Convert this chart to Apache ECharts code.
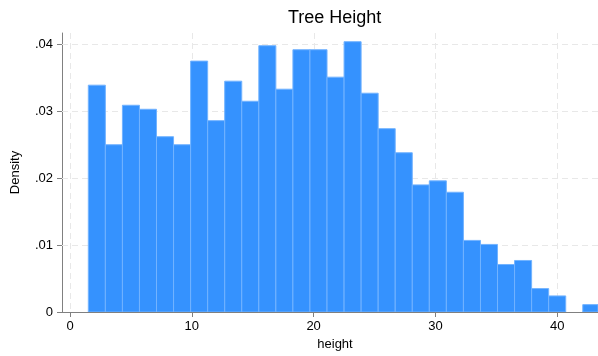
<!DOCTYPE html>
<html>
<head>
<meta charset="utf-8">
<script src="https://cdn.jsdelivr.net/npm/echarts@6/dist/echarts.min.js"></script>
<style>html,body{margin:0;padding:0;background:#fff}#c{width:598px;height:356px}</style>
</head>
<body>
<div id="c"></div>
<script>
// Histogram bins
var binStart = 1.5;
var binWidth = 1.4;
var densities = [0.0339, 0.0250, 0.0309, 0.0303, 0.0262, 0.0250, 0.0375, 0.0286, 0.0345, 0.0315,
                 0.0398, 0.0333, 0.0392, 0.0392, 0.0351, 0.0404, 0.0327, 0.0274, 0.0238, 0.0190,
                 0.0196, 0.0179, 0.0107, 0.0101, 0.0071, 0.0077, 0.0035, 0.0024, 0.0000, 0.0011];
var xTicks = [0, 10, 20, 30, 40];
var yTicks = [0, 0.01, 0.02, 0.03, 0.04];
var yTickLabels = ['0', '.01', '.02', '.03', '.04'];

var X_MIN = -0.66, X_MAX = 43.35, Y_MIN = 0, Y_MAX = 0.0417;

var histData = densities.map(function (d, i) {
  return [binStart + i * binWidth, binStart + (i + 1) * binWidth, d];
});

// gridline records: [orientation (0 = vertical at x, 1 = horizontal at y), value]
var gridData = [];
xTicks.forEach(function (v) { gridData.push([0, v]); });
yTicks.forEach(function (v) { if (v !== 0) gridData.push([1, v]); });

var chart = echarts.init(document.getElementById('c'), null, { renderer: 'canvas' });
var font = 'Liberation Sans, Arial, Helvetica, sans-serif';

chart.setOption({
  animation: false,
  backgroundColor: '#ffffff',
  title: {
    text: 'Tree Height',
    left: 288, top: 9, padding: 0,
    textStyle: { fontFamily: font, fontSize: 18, fontWeight: 'normal', color: '#000' }
  },
  grid: { left: 62, right: 0, top: 33, bottom: 39 },
  xAxis: {
    type: 'value', min: X_MIN, max: X_MAX,
    name: 'height', nameLocation: 'middle', nameGap: 26,
    nameTextStyle: { fontFamily: font, fontSize: 13, color: '#000', padding: [0, 0, 0, 10] },
    axisLine: { show: true, onZero: false, lineStyle: { color: '#808080', width: 1 } },
    axisTick: { show: true, length: 5, customValues: xTicks, lineStyle: { color: '#808080' } },
    axisLabel: { customValues: xTicks, fontFamily: font, fontSize: 13, color: '#000', margin: 8 },
    splitLine: { show: false }
  },
  yAxis: {
    type: 'value', min: Y_MIN, max: Y_MAX,
    name: 'Density', nameLocation: 'middle', nameGap: 40,
    nameTextStyle: { fontFamily: font, fontSize: 13, color: '#000' },
    axisLine: { show: true, onZero: false, lineStyle: { color: '#808080', width: 1 } },
    axisTick: { show: true, length: 5, customValues: yTicks, lineStyle: { color: '#808080' } },
    axisLabel: {
      customValues: yTicks, fontFamily: font, fontSize: 13, color: '#000', margin: 9,
      formatter: function (v) {
        for (var i = 0; i < yTicks.length; i++) if (Math.abs(yTicks[i] - v) < 1e-9) return yTickLabels[i];
        return '';
      }
    },
    splitLine: { show: false }
  },
  series: [
    {
      type: 'custom', z: 1, silent: true, clip: true,
      data: gridData,
      encode: { x: 1, y: 1 },
      renderItem: function (params, api) {
        var cs = params.coordSys;
        var p;
        var shape;
        if (api.value(0) === 0) {
          p = api.coord([api.value(1), Y_MIN]);
          shape = { x1: Math.round(p[0]) + 0.5, y1: cs.y, x2: Math.round(p[0]) + 0.5, y2: cs.y + cs.height };
        } else {
          p = api.coord([X_MIN, api.value(1)]);
          shape = { x1: cs.x, y1: Math.round(p[1]) + 0.5, x2: cs.x + cs.width, y2: Math.round(p[1]) + 0.5 };
        }
        return {
          type: 'line', shape: shape,
          style: { stroke: '#e8e8e8', lineWidth: 1, lineDash: [6, 4] }
        };
      }
    },
    {
      type: 'custom', z: 2, clip: true,
      data: histData,
      encode: { x: [0, 1], y: 2 },
      renderItem: function (params, api) {
        var p0 = api.coord([api.value(0), api.value(2)]);
        var p1 = api.coord([api.value(1), 0]);
        var cs = params.coordSys;
        var rect = echarts.graphic.clipRectByRect(
          { x: p0[0], y: p0[1], width: p1[0] - p0[0], height: p1[1] - p0[1] },
          { x: cs.x, y: cs.y, width: cs.width, height: cs.height }
        );
        if (!rect || api.value(2) <= 0) return null;
        return {
          type: 'rect', shape: rect,
          style: { fill: '#3592fe', stroke: '#72b3ff', lineWidth: 1 }
        };
      }
    }
  ]
});
</script>
</body>
</html>
